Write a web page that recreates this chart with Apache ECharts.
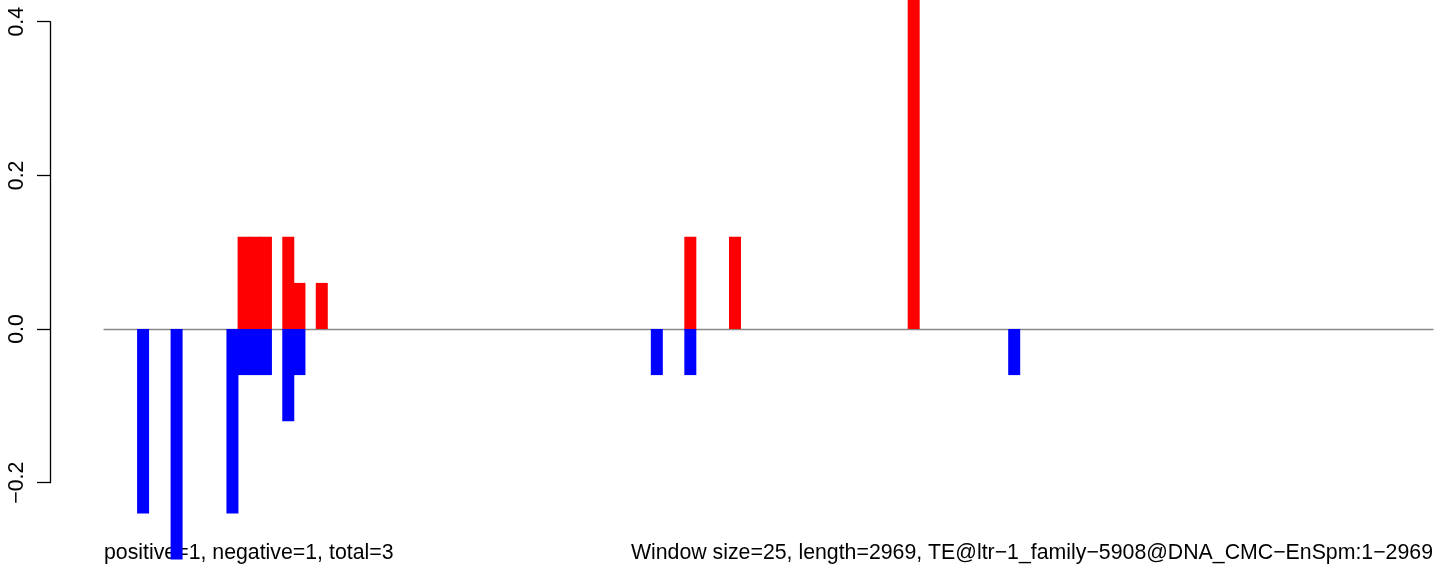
<!DOCTYPE html>
<html>
<head>
<meta charset="utf-8">
<script src="https://cdn.jsdelivr.net/npm/echarts@6/dist/echarts.min.js"></script>
<style>
  html, body { margin: 0; padding: 0; background: #ffffff; }
  #chart { width: 1444px; height: 571px; }
</style>
</head>
<body>
<div id="chart"></div>
<script>
// ---- data ----
const windowSize = 25;
const seqLength = 2969;
const posWindows = [12, 13, 14, 16, 17, 19, 52, 56, 72];
const posValues  = [0.12, 0.12, 0.12, 0.12, 0.06, 0.06, 0.12, 0.12, 0.54];
const negWindows = [3, 6, 11, 12, 13, 14, 16, 17, 49, 52, 81];
const negValues  = [-0.24, -0.30, -0.24, -0.06, -0.06, -0.06, -0.12, -0.06, -0.06, -0.06, -0.06];
const yTicks = [-0.2, 0.0, 0.2, 0.4];
const leftNote = 'positive=1, negative=1, total=3';
const rightNote = 'Window size=25, length=2969, TE@ltr\u22121_family\u22125908@DNA_CMC\u2212EnSpm:1\u22122969';

// ---- build series from the arrays ----
const nWin = Math.ceil(seqLength / windowSize);
const categories = [];
for (let i = 0; i < nWin; i++) categories.push(String(i * windowSize + 1));
const posData = new Array(nWin).fill(null);
const negData = new Array(nWin).fill(null);
posWindows.forEach((w, k) => { posData[w] = posValues[k]; });
negWindows.forEach((w, k) => { negData[w] = negValues[k]; });

const FONT = "'Liberation Sans', Arial, Helvetica, sans-serif";
const FS = 21.3;
const chart = echarts.init(document.getElementById('chart'), null, { renderer: 'canvas' });

// pixel geometry of the reference
const zeroY = 329, pxPerUnit = 768.3, H = 571;
const yMax = zeroY / pxPerUnit;
const yMin = -(H - zeroY) / pxPerUnit;

chart.setOption({
  animation: false,
  backgroundColor: '#ffffff',
  grid: [
    { left: 104, right: 11, top: 0, bottom: 0, containLabel: false },
    { left: 50, width: 10, top: zeroY - yTicks[3] * pxPerUnit, bottom: H - (zeroY - yTicks[0] * pxPerUnit), containLabel: false }
  ],
  xAxis: [
    {
      gridIndex: 0, type: 'category', data: categories, boundaryGap: true,
      axisLine: { show: true, onZero: true, lineStyle: { color: '#888888', width: 1.3 } },
      axisTick: { show: false }, axisLabel: { show: false }, splitLine: { show: false }
    },
    {
      gridIndex: 1, type: 'value', show: false
    }
  ],
  yAxis: [
    {
      gridIndex: 0, type: 'value', min: yMin, max: yMax, show: false,
      splitLine: { show: false }
    },
    {
      gridIndex: 1, type: 'value', min: yTicks[0], max: yTicks[3], interval: 0.2,
      position: 'left',
      axisLine: { show: true, lineStyle: { color: '#000000', width: 1.3 } },
      axisTick: { show: true, inside: false, length: 13, lineStyle: { color: '#000000', width: 1.3 } },
      splitLine: { show: false },
      axisLabel: {
        show: true, rotate: 90, margin: 22, color: '#000000',
        fontFamily: FONT, fontSize: FS,
        formatter: v => (v < 0 ? '\u2212' : '') + Math.abs(v).toFixed(1)
      }
    }
  ],
  series: [
    {
      type: 'bar', name: 'positive', xAxisIndex: 0, yAxisIndex: 0,
      data: posData, barWidth: 12, barGap: '-100%', clip: true,
      itemStyle: { color: '#ff0000' }, z: 3
    },
    {
      type: 'bar', name: 'negative', xAxisIndex: 0, yAxisIndex: 0,
      data: negData, barWidth: 12, barGap: '-100%', clip: true,
      itemStyle: { color: '#0000ff' }, z: 3
    }
  ],
  graphic: [
    {
      type: 'text', left: 104, top: 543, z: 0,
      style: { text: leftNote, fill: '#000000', font: FS + 'px ' + FONT }
    },
    {
      type: 'text', right: 11, top: 543, z: 0,
      style: { text: rightNote, fill: '#000000', font: FS + 'px ' + FONT }
    }
  ]
});
</script>
</body>
</html>
